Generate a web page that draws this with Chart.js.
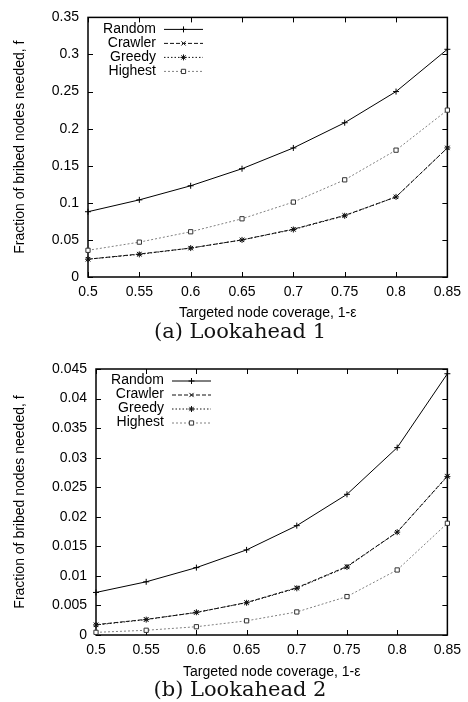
<!DOCTYPE html>
<html>
<head>
<meta charset="utf-8">
<script src="https://cdn.jsdelivr.net/npm/chart.js@4.4.1/dist/chart.umd.min.js"></script>
<style>
  body { margin: 0; background: #fff; width: 468px; height: 702px; position: relative; overflow: hidden; }
  .panel { position: absolute; left: 0; width: 468px; }
  canvas { display: block; }
  .caption { position: absolute; left: 6px; width: 468px; text-align: center;
             font-family: "DejaVu Serif", serif; font-size: 21px; line-height: 24px; color: #111; }
</style>
</head>
<body>
<div class="panel" style="top:0"><canvas id="la1" width="468" height="322"></canvas></div>
<div class="caption" style="top:319px">(a) Lookahead 1</div>
<div class="panel" style="top:351px"><canvas id="la2" width="468" height="330"></canvas></div>
<div class="caption" style="top:677px">(b) Lookahead 2</div>
<script>
const coverage = [0.5, 0.55, 0.6, 0.65, 0.7, 0.75, 0.8, 0.85];
const xTickLabels = ['0.5', '0.55', '0.6', '0.65', '0.7', '0.75', '0.8', '0.85'];
const seriesNames = ['Random', 'Crawler', 'Greedy', 'Highest'];

// lookahead 1
const random1  = [0.088, 0.104, 0.123, 0.146, 0.174, 0.208, 0.250, 0.307];
const crawler1 = [0.024, 0.031, 0.039, 0.050, 0.0645, 0.083, 0.108, 0.174];
const greedy1  = [0.024, 0.0305, 0.039, 0.050, 0.064, 0.0825, 0.108, 0.174];
const highest1 = [0.036, 0.047, 0.061, 0.0785, 0.101, 0.131, 0.171, 0.225];
const yTicks1  = ['0', '0.05', '0.1', '0.15', '0.2', '0.25', '0.3', '0.35'];

// lookahead 2
const random2  = [0.0072, 0.0090, 0.0114, 0.0144, 0.0185, 0.0238, 0.0317, 0.0442];
const crawler2 = [0.00175, 0.00265, 0.0038, 0.0055, 0.0080, 0.0116, 0.0174, 0.0269];
const greedy2  = [0.0017, 0.0026, 0.00385, 0.00545, 0.0079, 0.0115, 0.0174, 0.0268];
const highest2 = [0.00045, 0.0008, 0.0014, 0.0024, 0.0039, 0.0065, 0.0110, 0.0189];
const yTicks2  = ['0', '0.005', '0.01', '0.015', '0.02', '0.025', '0.03', '0.035', '0.04', '0.045'];

const lineStyles = [
  { color: '#000', dash: [], point: 'cross', pointColor: '#000', fill: '#000' },
  { color: '#111', dash: [4, 2], point: 'crossRot', pointColor: '#111', fill: '#111' },
  { color: '#111', dash: [1.5, 2], point: 'star', pointColor: '#111', fill: '#111' },
  { color: '#808080', dash: [2, 2], point: 'rect', pointColor: '#333', fill: '#fff' }
];

Chart.defaults.font.family = '"Liberation Sans", Arial, sans-serif';
Chart.defaults.color = '#000';

// box around the plot with inward ticks on every side
const framePlugin = {
  id: 'frame',
  beforeDatasetsDraw(chart) {
    const { ctx, chartArea: a, scales: { x, y } } = chart;
    ctx.save();
    ctx.strokeStyle = '#000';
    ctx.lineWidth = 1;
    ctx.beginPath();
    x.ticks.forEach(t => {
      const px = Math.round(x.getPixelForValue(t.value)) + 0.5;
      ctx.moveTo(px, a.bottom); ctx.lineTo(px, a.bottom - 5);
      ctx.moveTo(px, a.top); ctx.lineTo(px, a.top + 5);
    });
    y.ticks.forEach(t => {
      const py = Math.round(y.getPixelForValue(t.value)) + 0.5;
      ctx.moveTo(a.left, py); ctx.lineTo(a.left + 5, py);
      ctx.moveTo(a.right, py); ctx.lineTo(a.right - 5, py);
    });
    ctx.stroke();
    ctx.lineWidth = 1.5;
    ctx.strokeRect(a.left, a.top, a.width, a.height);
    ctx.restore();
  }
};

// key in the upper left: right-aligned names, sample line to the right
const keyPlugin = {
  id: 'key',
  afterDraw(chart) {
    const { ctx, chartArea: a } = chart;
    ctx.save();
    chart.data.datasets.forEach((ds, i) => {
      const yy = a.top + 11.5 + i * 14;
      ctx.font = '14px "Liberation Sans", Arial, sans-serif';
      ctx.textAlign = 'right';
      ctx.textBaseline = 'middle';
      ctx.fillStyle = '#000';
      ctx.fillText(ds.label, a.left + 68, yy);
      ctx.strokeStyle = ds.borderColor;
      ctx.lineWidth = 1;
      ctx.setLineDash(ds.borderDash);
      ctx.beginPath();
      ctx.moveTo(a.left + 76, yy + 0.5);
      ctx.lineTo(a.left + 115, yy + 0.5);
      ctx.stroke();
      ctx.setLineDash([]);
      ctx.strokeStyle = ds.pointBorderColor;
      ctx.fillStyle = ds.pointBackgroundColor;
      Chart.helpers.drawPoint(ctx, { pointStyle: ds.pointStyle, radius: 3, borderWidth: 1, rotation: 0 }, a.left + 95.5, yy + 0.5);
    });
    ctx.restore();
  }
};

function drawPanel(id, series, yLabels, plotLeft, padTop, xHeight) {
  const yValues = yLabels.map(Number);
  const datasets = series.map((vals, i) => {
    const s = lineStyles[i];
    return {
      label: seriesNames[i],
      data: coverage.map((x, j) => ({ x: x, y: vals[j] })),
      borderColor: s.color,
      borderWidth: 1,
      borderDash: s.dash,
      pointStyle: s.point,
      pointRadius: 3,
      pointBorderWidth: 1,
      pointBorderColor: s.pointColor,
      pointBackgroundColor: s.fill,
      tension: 0,
      clip: false
    };
  });
  return new Chart(document.getElementById(id), {
    type: 'line',
    data: { datasets: datasets },
    options: {
      responsive: false,
      animation: false,
      layout: { padding: { left: 0, right: 20, top: padTop, bottom: 0 } },
      plugins: { legend: { display: false }, tooltip: { enabled: false } },
      scales: {
        x: {
          type: 'linear',
          min: coverage[0],
          max: coverage[coverage.length - 1],
          afterBuildTicks: s => { s.ticks = coverage.map(v => ({ value: v })); },
          afterFit: s => { s.height = xHeight; },
          ticks: { callback: (v, i) => xTickLabels[i], font: { size: 14 }, padding: 7, maxRotation: 0, autoSkip: false },
          grid: { display: false, drawTicks: false },
          border: { display: false },
          title: { display: true, text: 'Targeted node coverage, 1-ε', font: { size: 14 }, padding: 0 }
        },
        y: {
          min: 0,
          max: yValues[yValues.length - 1],
          afterBuildTicks: s => { s.ticks = yValues.map(v => ({ value: v })); },
          afterFit: s => { s.width = plotLeft; },
          ticks: { callback: (v, i) => yLabels[i], font: { size: 14 }, padding: 9, autoSkip: false },
          grid: { display: false, drawTicks: false },
          border: { display: false },
          title: { display: true, text: 'Fraction of bribed nodes needed, f', font: { size: 14 }, padding: { top: 12, bottom: 0 } }
        }
      }
    },
    plugins: [framePlugin, keyPlugin]
  });
}

drawPanel('la1', [random1, crawler1, greedy1, highest1], yTicks1, 88, 11, 45);
drawPanel('la2', [random2, crawler2, greedy2, highest2], yTicks2, 96, 18, 46);
</script>
</body>
</html>
